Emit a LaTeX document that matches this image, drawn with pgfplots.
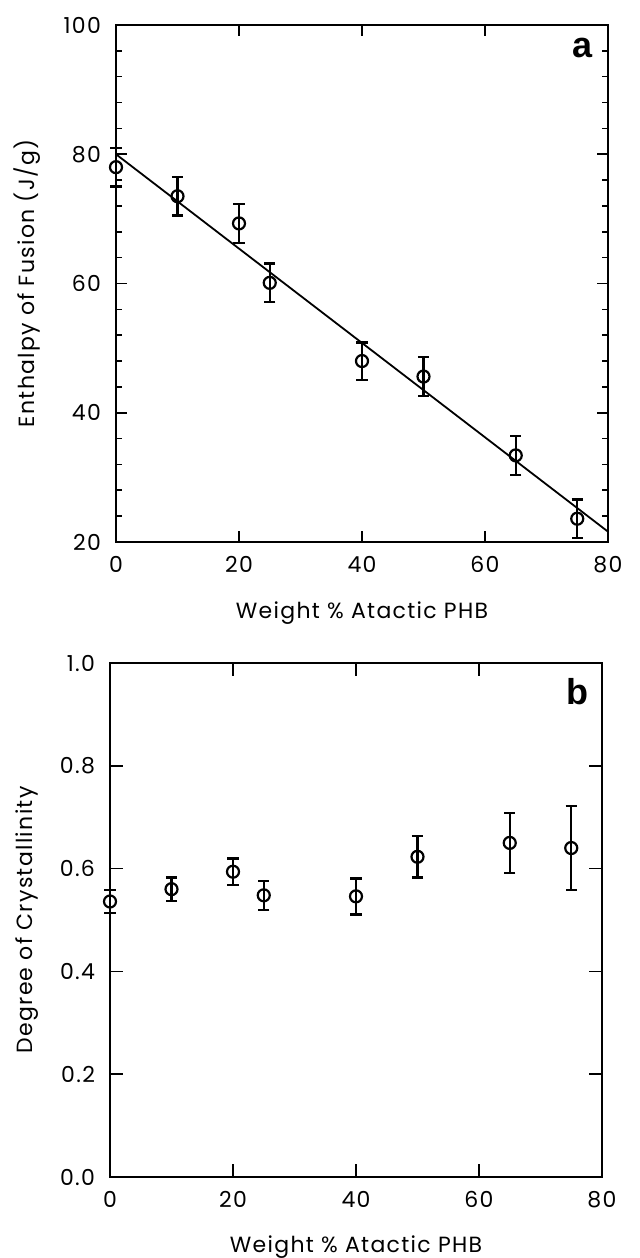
\documentclass[border=0pt]{standalone}
\usepackage{pgfplots}
\pgfplotsset{compat=1.18}
\usepackage{pgfplotstable}
\usepackage{fontspec}
\setmainfont{Poppins}[LetterSpace=6]
\newfontfamily\boldlab{Liberation Sans}

\pgfplotstableread{
x y e
0 78.0 3.0
10 73.5 3.0
20 69.3 3.0
25 60.1 3.0
40 48.0 2.9
50 45.6 3.0
65 33.4 3.0
75 23.6 3.0
}\tabA

\pgfplotstableread{
x y e
0 0.536 0.022
10 0.560 0.023
20 0.594 0.026
25 0.548 0.028
40 0.546 0.035
50 0.623 0.040
65 0.650 0.058
75 0.640 0.082
}\tabB

\pgfplotsset{
  common/.style={
    scale only axis,
    width=246pt,
    xmin=0, xmax=80,
    xtick={0,20,40,60,80},
    tick align=inside,
    major tick length=5.5pt,
    minor tick length=3pt,
    axis line style={line width=0.9pt},
    every tick/.style={line width=0.8pt, black},
    font=\fontsize{11}{13}\selectfont,
    /pgf/number format/assume math mode=true,
    xticklabel style={yshift=-3.5pt},
    yticklabel style={xshift=-4pt},
    every axis x label/.style={at={(axis description cs:0.5,-0.137)}, anchor=center},
    every axis y label/.style={at={(axis description cs:-0.18,0.5)}, anchor=center, rotate=90},
    clip=false,
  },
  datastyle/.style={
    black, only marks, mark=o, mark size=3pt, line width=1.1pt,
    mark options={fill=white, line width=1.1pt},
    error bars/.cd, y dir=both, y explicit,
    error bar style={line width=1.2pt},
    error mark options={rotate=90, mark size=2.8pt, line width=1.2pt},
  },
}

\begin{document}
\begin{tikzpicture}
\useasboundingbox (0,0) rectangle (320pt,629pt);

% Panel a
\begin{axis}[common,
  at={(58pt,358pt)}, anchor=south west,
  height=258.5pt,
  ymin=20, ymax=100,
  ytick={20,40,60,80,100},
  minor ytick={24,28,32,36,44,48,52,56,64,68,72,76,84,88,92,96},
  xlabel={Weight \% Atactic PHB},
  ylabel={Enthalpy of Fusion (J/g)},
]
\addplot[black, line width=0.9pt, no markers] coordinates {(0,80.0) (80,21.6)};
\addplot[datastyle] table[x=x, y=y, y error=e] {\tabA};
\node[font=\boldlab\bfseries\fontsize{18}{19}\selectfont] at (axis description cs:0.949,0.955) {a};
\end{axis}

% Panel b
\begin{axis}[common,
  at={(55pt,40.5pt)}, anchor=south west,
  height=257pt,
  ymin=0, ymax=1,
  ytick={0,0.2,0.4,0.6,0.8,1.0},
  yticklabel style={/pgf/number format/.cd, fixed, fixed zerofill, precision=1},
  major tick length=6.5pt,
  xlabel={Weight \% Atactic PHB},
  ylabel={Degree of Crystallinity},
  every axis y label/.style={at={(axis description cs:-0.168,0.5)}, anchor=center, rotate=90},
]
\addplot[datastyle] table[x=x, y=y, y error=e] {\tabB};
\node[font=\boldlab\bfseries\fontsize{18}{19}\selectfont] at (axis description cs:0.951,0.944) {b};
\end{axis}
\end{tikzpicture}
\end{document}
